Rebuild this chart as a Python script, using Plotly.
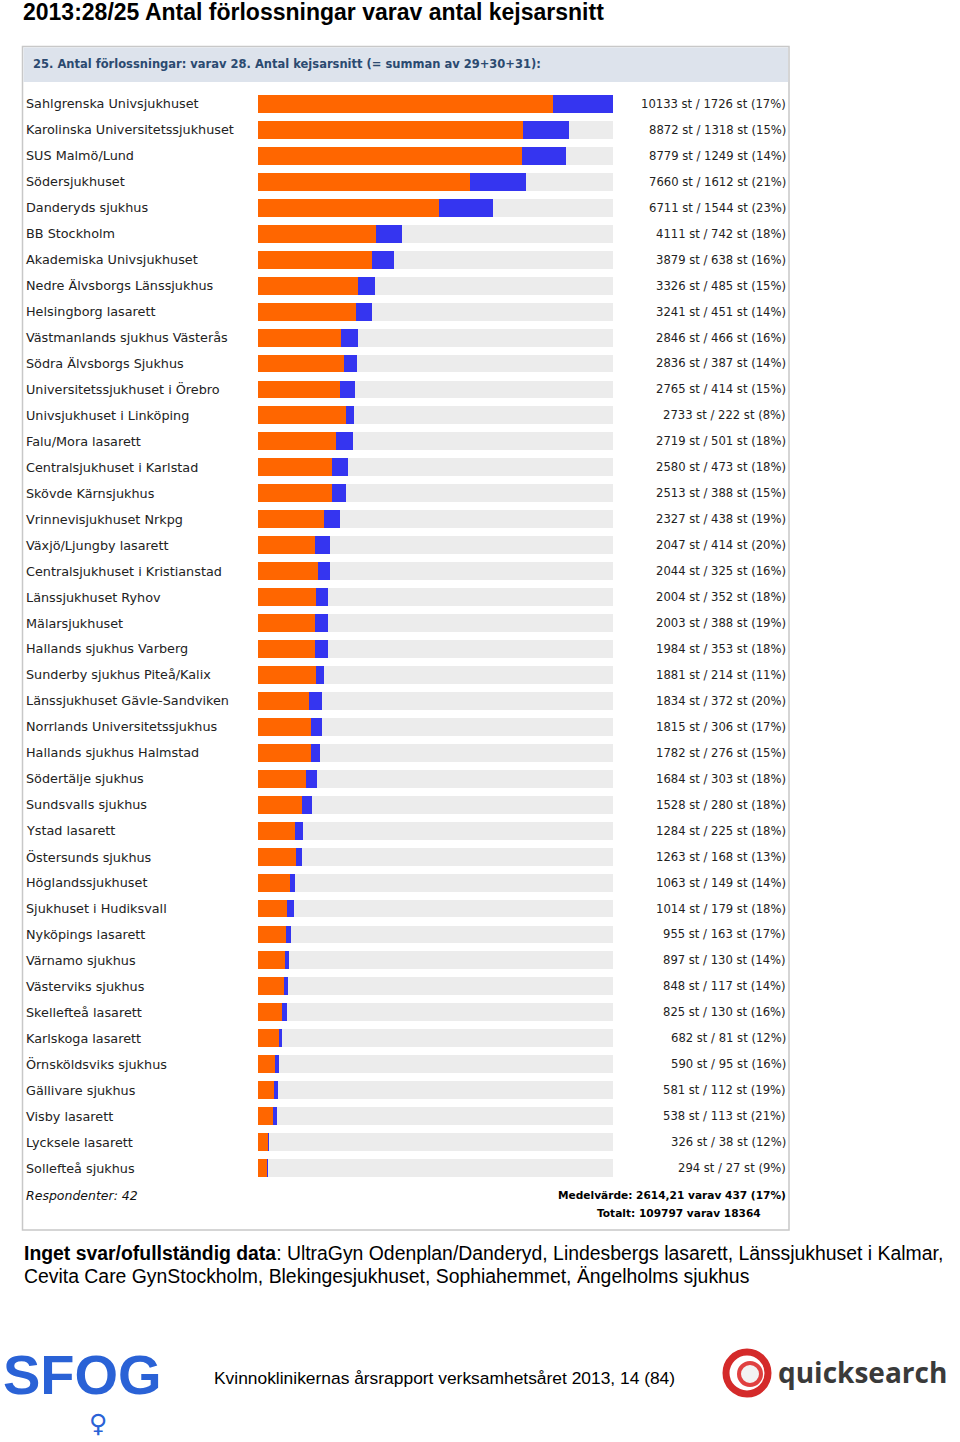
import plotly.graph_objects as go

hospitals = [
    "Sahlgrenska Univsjukhuset", "Karolinska Universitetssjukhuset", "SUS Malmö/Lund",
    "Södersjukhuset", "Danderyds sjukhus", "BB Stockholm", "Akademiska Univsjukhuset",
    "Nedre Älvsborgs Länssjukhus", "Helsingborg lasarett", "Västmanlands sjukhus Västerås",
    "Södra Älvsborgs Sjukhus", "Universitetssjukhuset i Örebro", "Univsjukhuset i Linköping",
    "Falu/Mora lasarett", "Centralsjukhuset i Karlstad", "Skövde Kärnsjukhus",
    "Vrinnevisjukhuset Nrkpg", "Växjö/Ljungby lasarett", "Centralsjukhuset i Kristianstad",
    "Länssjukhuset Ryhov", "Mälarsjukhuset", "Hallands sjukhus Varberg",
    "Sunderby sjukhus Piteå/Kalix", "Länssjukhuset Gävle-Sandviken",
    "Norrlands Universitetssjukhus", "Hallands sjukhus Halmstad", "Södertälje sjukhus",
    "Sundsvalls sjukhus", "Ystad lasarett", "Östersunds sjukhus", "Höglandssjukhuset",
    "Sjukhuset i Hudiksvall", "Nyköpings lasarett", "Värnamo sjukhus", "Västerviks sjukhus",
    "Skellefteå lasarett", "Karlskoga lasarett", "Örnsköldsviks sjukhus", "Gällivare sjukhus",
    "Visby lasarett", "Lycksele lasarett", "Sollefteå sjukhus",
]
total_births = [10133, 8872, 8779, 7660, 6711, 4111, 3879, 3326, 3241, 2846, 2836, 2765, 2733,
                2719, 2580, 2513, 2327, 2047, 2044, 2004, 2003, 1984, 1881, 1834, 1815, 1782,
                1684, 1528, 1284, 1263, 1063, 1014, 955, 897, 848, 825, 682, 590, 581, 538,
                326, 294]
caesareans = [1726, 1318, 1249, 1612, 1544, 742, 638, 485, 451, 466, 387, 414, 222, 501, 473,
              388, 438, 414, 325, 352, 388, 353, 214, 372, 306, 276, 303, 280, 225, 168, 149,
              179, 163, 130, 117, 130, 81, 95, 112, 113, 38, 27]
percents = [17, 15, 14, 21, 23, 18, 16, 15, 14, 16, 14, 15, 8, 18, 18, 15, 19, 20, 16, 18, 19,
            18, 11, 20, 17, 15, 18, 18, 18, 13, 14, 18, 17, 14, 14, 16, 12, 16, 19, 21, 12, 9]

W, H = 960, 1442
px = lambda x: x / W
py = lambda y: 1 - y / H

max_total = max(total_births)
vaginal = [t - c for t, c in zip(total_births, caesareans)]
remainder = [max_total - t for t in total_births]

ORANGE = "#ff6600"
BLUE = "#3535f0"
GRAY = "#ececec"
LABEL_FONT = "DejaVu Sans"

fig = go.Figure()
fig.add_trace(go.Bar(y=hospitals, x=vaginal, orientation="h", marker=dict(color=ORANGE, line=dict(width=0)),
                     width=0.69, hoverinfo="skip"))
fig.add_trace(go.Bar(y=hospitals, x=caesareans, orientation="h", marker=dict(color=BLUE, line=dict(width=0)),
                     width=0.69, hoverinfo="skip"))
fig.add_trace(go.Bar(y=hospitals, x=remainder, orientation="h", marker=dict(color=GRAY, line=dict(width=0)),
                     width=0.69, hoverinfo="skip"))

annotations = []
for h, t, c, p in zip(hospitals, total_births, caesareans, percents):
    annotations.append(dict(x=px(24), xref="paper", y=h, yref="y", text=h, showarrow=False,
                            xanchor="left", yanchor="middle",
                            font=dict(family=LABEL_FONT, size=12.8, color="#222")))
    annotations.append(dict(x=px(788), xref="paper", y=h, yref="y",
                            text=f"{t} st / {c} st ({p}%)", showarrow=False,
                            xanchor="right", yanchor="middle",
                            font=dict(family=LABEL_FONT, size=11.6, color="#222")))

# Title and header
annotations += [
    dict(x=px(21), y=py(12), xref="paper", yref="paper", xanchor="left", yanchor="middle",
         text="<b>2013:28/25 Antal förlossningar varav antal kejsarsnitt</b>", showarrow=False,
         font=dict(family="Liberation Sans", size=23, color="#000")),
    dict(x=px(31), y=py(64), xref="paper", yref="paper", xanchor="left", yanchor="middle",
         text="<b>25. Antal förlossningar: varav 28. Antal kejsarsnitt (= summan av 29+30+31):</b>",
         showarrow=False, font=dict(family=LABEL_FONT, size=11.5, color="#2b4a70")),
    dict(x=px(24), y=py(1195), xref="paper", yref="paper", xanchor="left", yanchor="middle",
         text="<i>Respondenter: 42</i>", showarrow=False,
         font=dict(family=LABEL_FONT, size=12.5, color="#111")),
    dict(x=px(788), y=py(1195), xref="paper", yref="paper", xanchor="right", yanchor="middle",
         text="<b>Medelvärde: 2614,21 varav 437 (17%)</b>", showarrow=False,
         font=dict(family=LABEL_FONT, size=10.6, color="#000")),
    dict(x=px(679), y=py(1213), xref="paper", yref="paper", xanchor="center", yanchor="middle",
         text="<b>Totalt: 109797 varav 18364</b>", showarrow=False,
         font=dict(family=LABEL_FONT, size=10.6, color="#000")),
    dict(x=px(22), y=py(1253), xref="paper", yref="paper", xanchor="left", yanchor="middle",
         text="<b>Inget svar/ofullständig data</b>: UltraGyn Odenplan/Danderyd, Lindesbergs lasarett, Länssjukhuset i Kalmar,",
         showarrow=False, font=dict(family="Liberation Sans", size=19.4, color="#000")),
    dict(x=px(22), y=py(1276), xref="paper", yref="paper", xanchor="left", yanchor="middle",
         text="Cevita Care GynStockholm, Blekingesjukhuset, Sophiahemmet, Ängelholms sjukhus",
         showarrow=False, font=dict(family="Liberation Sans", size=19.4, color="#000")),
    dict(x=px(444), y=py(1378), xref="paper", yref="paper", xanchor="center", yanchor="middle",
         text="Kvinnoklinikernas årsrapport verksamhetsåret 2013, 14 (84)",
         showarrow=False, font=dict(family="Liberation Sans", size=17.4, color="#000")),
    # SFOG logo (text approximation)
    dict(x=px(82), y=py(1408), xref="paper", yref="paper", xanchor="center", yanchor="bottom",
         text="<b>SFOG</b>", showarrow=False,
         font=dict(family="Liberation Sans", size=56, color="#2a62d6")),
    dict(x=px(98), y=py(1407), xref="paper", yref="paper", xanchor="center", yanchor="top",
         text="<b>♀</b>", showarrow=False,
         font=dict(family="DejaVu Sans", size=25, color="#2a62d6")),
    # quicksearch logo
    dict(x=px(776), y=py(1372), xref="paper", yref="paper", xanchor="left", yanchor="middle",
         text="<b>quicksearch</b>", showarrow=False,
         font=dict(family="Open Sans", size=28, color="#3a3a3a")),
]

shapes = [
    dict(type="rect", xref="paper", yref="paper", x0=px(22.5), x1=px(789), y0=py(46.5), y1=py(1230),
         line=dict(color="#c8c8c8", width=1.5), fillcolor="rgba(0,0,0,0)", layer="below"),
    dict(type="rect", xref="paper", yref="paper", x0=px(23.5), x1=px(788), y0=py(47.5), y1=py(82),
         line=dict(width=0), fillcolor="#dde3ec", layer="below"),
    dict(type="circle", xref="paper", yref="paper", x0=px(726), x1=px(768), y0=py(1352), y1=py(1394),
         line=dict(color="#d42a2a", width=7), fillcolor="rgba(0,0,0,0)"),
    dict(type="circle", xref="paper", yref="paper", x0=px(739), x1=px(761), y0=py(1363), y1=py(1385),
         line=dict(color="#e04040", width=4), fillcolor="#f2f2f2"),
]

fig.update_layout(
    width=W, height=H, margin=dict(l=0, r=0, t=0, b=0),
    paper_bgcolor="white", plot_bgcolor="white",
    barmode="stack", showlegend=False,
    xaxis=dict(domain=[px(258), px(613)], range=[0, max_total], visible=False, fixedrange=True),
    yaxis=dict(domain=[py(1181), py(91)], autorange=False, range=[len(hospitals) - 0.5, -0.5],
               type="category", visible=False, fixedrange=True),
    annotations=annotations, shapes=shapes,
)

fig.write_html("out.html")
